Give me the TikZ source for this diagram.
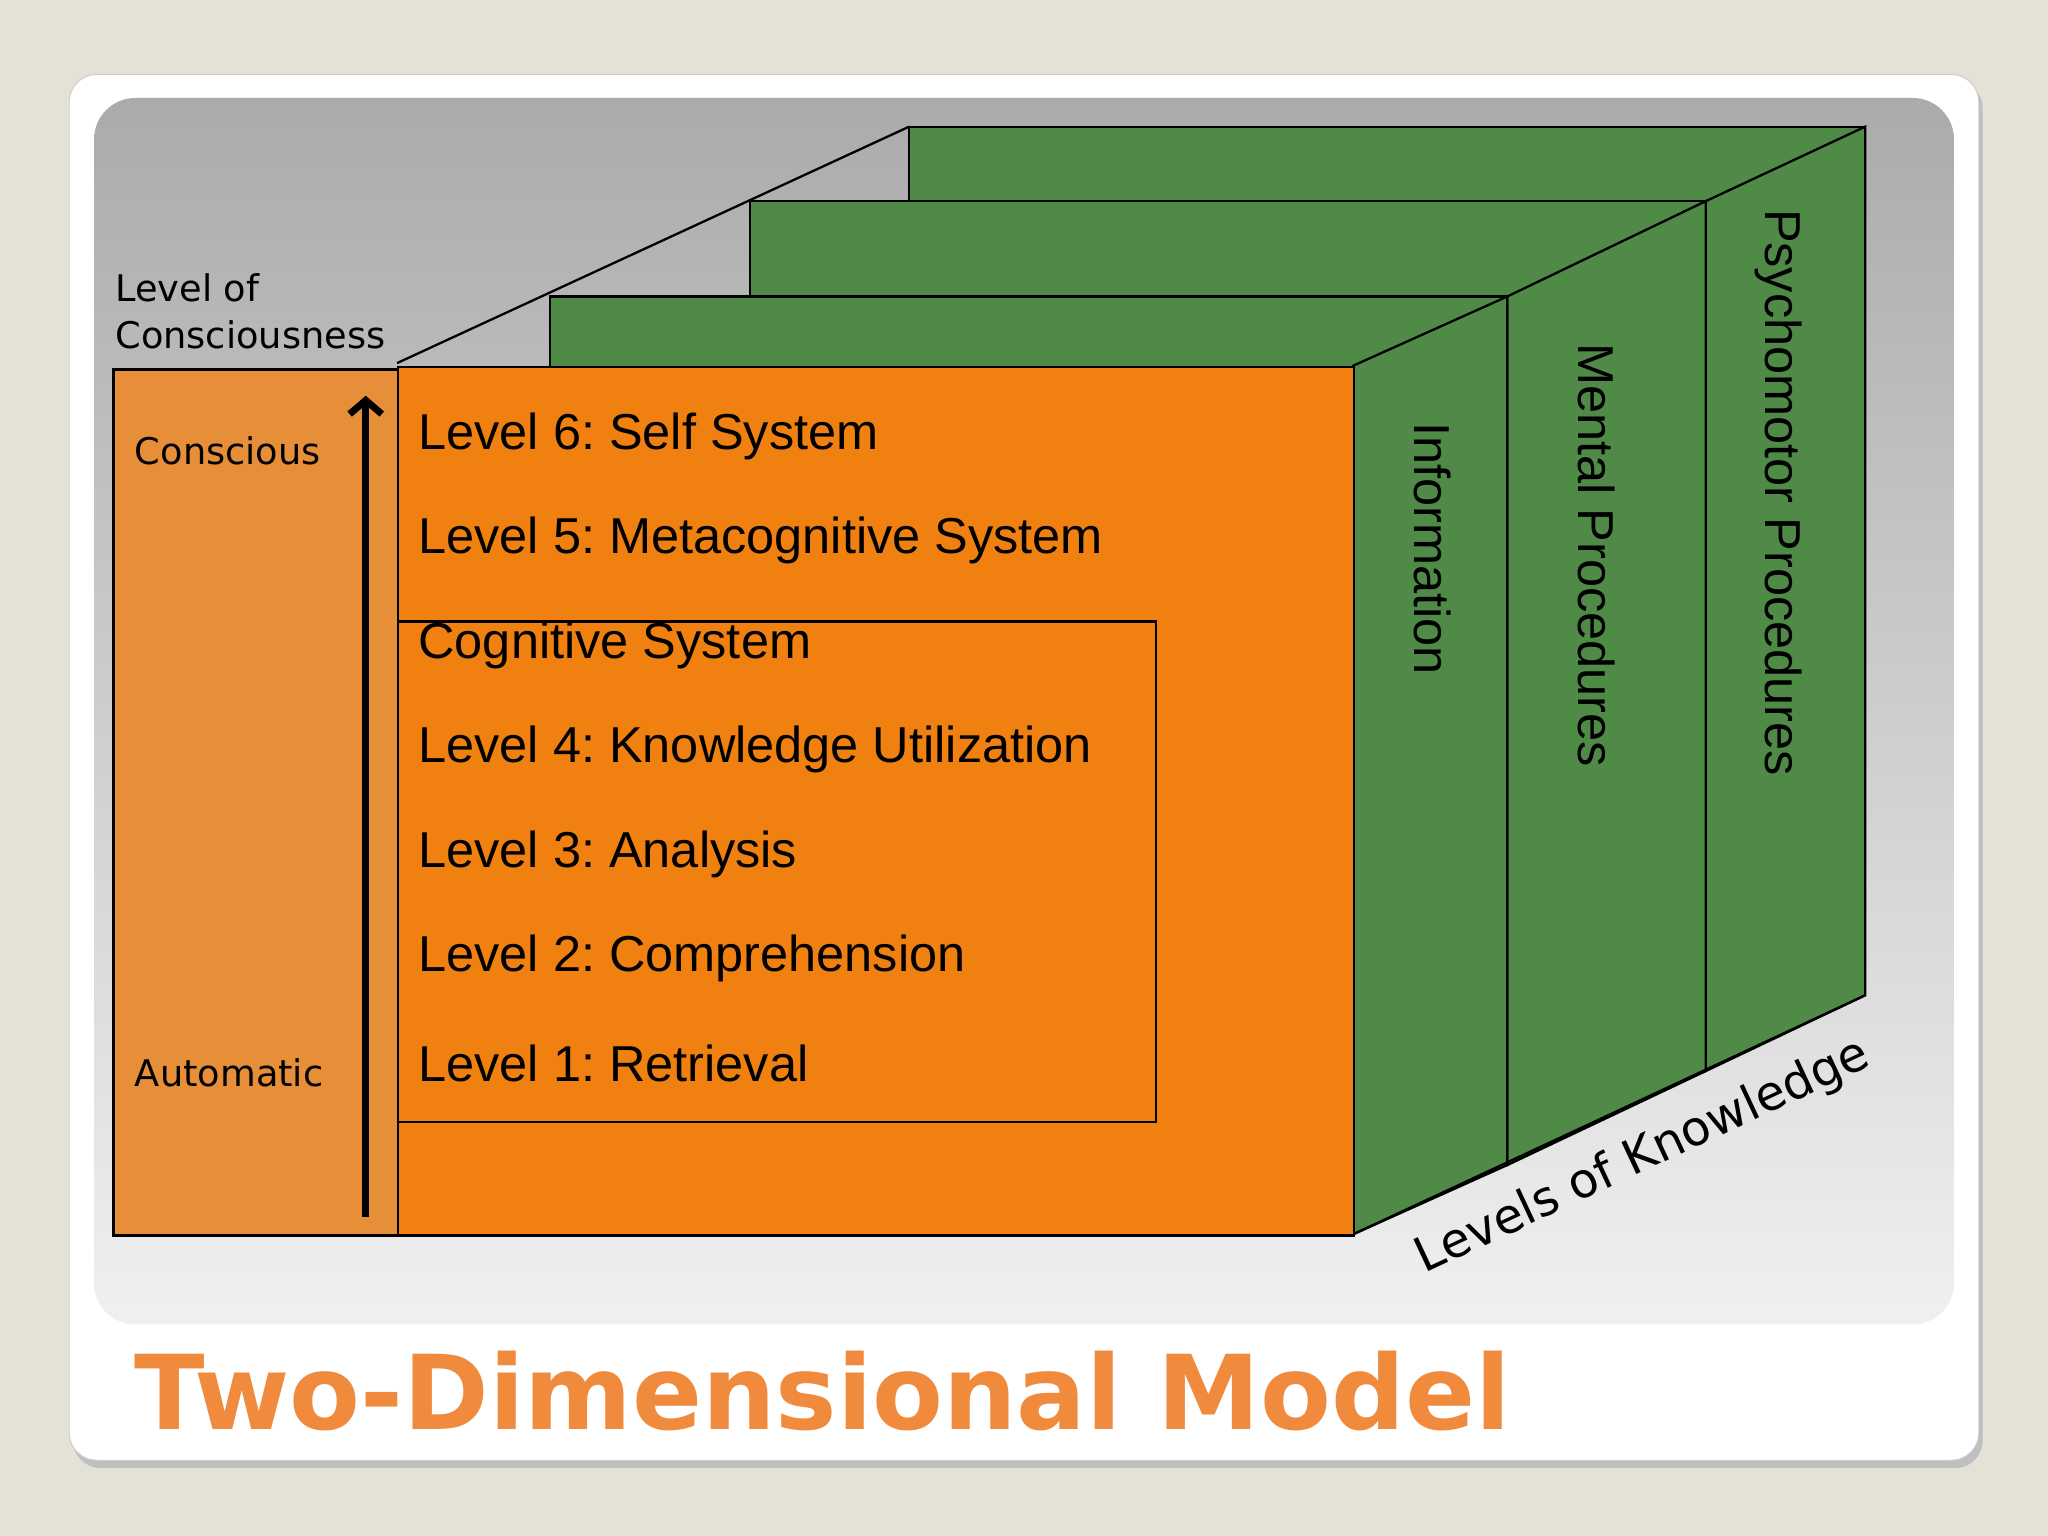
\documentclass[tikz,border=0pt]{standalone}
\usepackage{fontspec}
\usetikzlibrary{arrows.meta}
\setmainfont{Liberation Sans}
\newfontfamily\verd{DejaVu Sans}
\frenchspacing
\begin{document}
\begin{tikzpicture}[x=0.02cm,y=-0.02cm,
  lvl/.style={anchor=west,font=\fontsize{22}{24}\selectfont,inner sep=0},
  side/.style={font=\verd\fontsize{16}{20.5}\selectfont,inner sep=0},
  vert/.style={rotate=-90,font=\fontsize{22}{24}\selectfont,inner sep=0},
  slabst/.style={fill=slab,draw=black,line width=1pt},
  org/.style={draw=black,line width=1pt}]
\definecolor{bg}{HTML}{E4E1D6}
\definecolor{slab}{HTML}{4F8A47}
\definecolor{front}{HTML}{F0800F}
\definecolor{leftc}{HTML}{E78E38}
\definecolor{title}{HTML}{F08A3C}
\fill[bg] (0,0) rectangle (1568,1176);
\useasboundingbox (0,0) rectangle (1568,1176);
\fill[black!25,rounded corners=12] (56,62) rectangle (1518,1124);
\fill[white,draw=black!20,rounded corners=12] (53,57) rectangle (1515,1118);
\shade[top color=black!33,bottom color=black!6,rounded corners=18] (72,75) rectangle (1496,1014);
% slabs back to front
\path[slabst] (696,97) rectangle (1428,762);
\path[slabst] (1306,154) -- (1428,97) -- (1428,762) -- (1306,820) -- cycle;
\path[slabst] (574,154) rectangle (1306,820);
\path[slabst] (1154,227) -- (1306,154) -- (1306,820) -- (1154,892) -- cycle;
\path[slabst] (421,227) rectangle (1154,892);
\path[slabst] (1036,280) -- (1154,227) -- (1154,892) -- (1036,945) -- cycle;
\coordinate (tl) at (304,278); \coordinate (tb) at (696,97);
\coordinate (br) at (1036,945); \coordinate (bb) at (1428,762);
\draw[line width=1pt] (tl) -- (tb);
\draw[line width=1pt] (br) -- (bb);
% front
\node[org,fill=front,minimum width=732*0.02cm,minimum height=665*0.02cm,anchor=north west,inner sep=0] (fr) at (304,280) {};
\node[org,fill=leftc,minimum width=218*0.02cm,minimum height=663*0.02cm,anchor=north west,inner sep=0] (lc) at (86,282) {};
\node[org,minimum width=580*0.02cm,minimum height=383*0.02cm,anchor=north west,inner sep=0] (cog) at (304,475) {};
\coordinate (a0) at (280,932); \coordinate (a1) at (280,303);
\draw[line width=3pt,-{Straight Barb[length=6pt,width=14pt]}] (a0) -- (a1);
\node[side,anchor=west,align=left] (loc) at (88,238) {Level of\\Consciousness};
\node[side,anchor=west] (con) at (103,345) {Conscious};
\node[side,anchor=west] (aut) at (103,821) {Automatic};
\node[lvl] (l6) at (320,334) {Level 6: Self System};
\node[lvl] (l5) at (320,414) {Level 5: Metacognitive System};
\node[lvl] (cs) at (320,494) {Cognitive System};
\node[lvl] (l4) at (320,574) {Level 4: Knowledge Utilization};
\node[lvl] (l3) at (320,654) {Level 3: Analysis};
\node[lvl] (l2) at (320,734) {Level 2: Comprehension};
\node[lvl] (l1) at (320,814) {Level 1: Retrieval};
\node[vert] (inf) at (1097,420) {Information};
\node[vert] (men) at (1222,425) {Mental Procedures};
\node[vert] (psy) at (1362,377) {Psychomotor Procedures};
\node[rotate=25,font=\verd\fontsize{21}{24}\selectfont,inner sep=0] (lok) at (1258,886) {Levels of Knowledge};
\node[anchor=west,inner sep=0,text=title,font=\verd\bfseries\fontsize{45}{48}\selectfont] (ttl) at (103,1065) {Two-Dimensional Model};
\end{tikzpicture}
\end{document}
